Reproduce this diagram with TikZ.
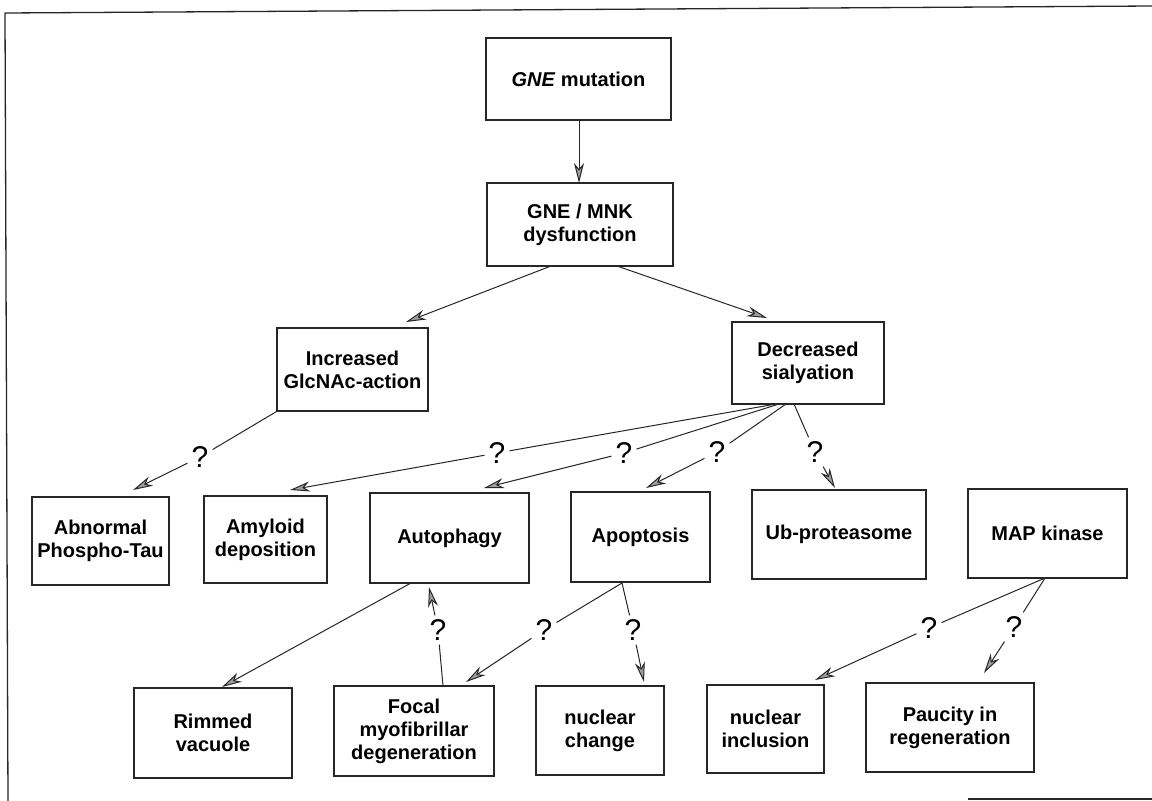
\documentclass[tikz,border=0pt]{standalone}
\usepackage{fontspec}
\setmainfont{Liberation Sans}
\usetikzlibrary{arrows.meta}
\begin{document}
\begin{tikzpicture}[x=1pt,y=-1pt,
  box/.style 2 args={draw=black!85, line width=1.2pt, minimum width=#1, minimum height=#2,
    inner sep=0pt, align=center, font=\fontsize{20}{23}\selectfont\bfseries},
  qm/.style={inner sep=4pt, font=\fontsize{30}{30}\selectfont},
  con/.style={line width=1pt, draw=black!85},
  arr/.style={con, -{Stealth[length=20pt,width=10pt,inset=6pt,fill=gray!75]}}]
\useasboundingbox (0,0) rectangle (1152,801);
% frame
\draw[line width=1.3pt, black!85] (1152,6) -- (5,13) -- (8,801);
\draw[line width=1.3pt, black!85] (968,799) -- (1152,799);
% boxes
\node[box={185}{82}] (gne) at (578.5,79) {\textit{GNE} mutation};
\node[box={186}{83}] (mnk) at (580,224.5) {GNE / MNK\\dysfunction};
\node[box={151}{83}] (inc) at (352.5,369.5) {Increased\\GlcNAc-action};
\node[box={152}{82}] (dec) at (808,363) {Decreased\\sialyation};
\node[box={137}{88}] (abn) at (100.5,541) {Abnormal\\Phospho-Tau};
\node[box={123}{87}] (amy) at (265.5,539.5) {Amyloid\\deposition};
\node[box={159}{90}] (aut) at (449.5,538) {Autophagy};
\node[box={139}{90}] (apo) at (640.5,537) {Apoptosis};
\node[box={174}{89}] (ub) at (839,534.5) {Ub-proteasome};
\node[box={159}{89}] (map) at (1047.5,533.5) {MAP kinase};
\node[box={158}{90}] (rim) at (213,733) {Rimmed\\vacuole};
\node[box={160}{90}] (foc) at (414,731) {Focal\\myofibrillar\\degeneration};
\node[box={128}{89}] (nch) at (600,730.5) {nuclear\\change};
\node[box={117}{88}] (ninc) at (765.5,729) {nuclear\\inclusion};
\node[box={168}{89}] (pau) at (950,727.5) {Paucity in\\regeneration};
% question marks
\node[qm] (q1) at (200,457) {?};
\node[qm] (q2) at (497,453) {?};
\node[qm] (q3) at (624,453) {?};
\node[qm] (q4) at (717,452) {?};
\node[qm] (q5) at (815,452) {?};
\node[qm] (q6) at (544,630) {?};
\node[qm] (q7) at (633,630) {?};
\node[qm] (q8) at (438,630) {?};
\node[qm] (q9) at (929,628) {?};
\node[qm] (q10) at (1014,627) {?};
% connector end points
\coordinate (gneS) at (579,120);
\coordinate (mnkT) at (579,183);
\coordinate (mnkL) at (551,266);
\coordinate (mnkR) at (617,266);
\coordinate (incT) at (406,322);
\coordinate (decT) at (767,318);
\coordinate (t1) at (133,490);
\coordinate (s2) at (776,404);
\coordinate (s3) at (779,404);
\coordinate (s4) at (786,404);
\coordinate (s5) at (794,404);
\coordinate (t2) at (290,490);
\coordinate (t3) at (484,488);
\coordinate (t4) at (646,488);
\coordinate (t5) at (835,488);
\coordinate (autS) at (411,583);
\coordinate (rimT) at (222,687);
\coordinate (apoS) at (622,583);
\coordinate (t6) at (466,682);
\coordinate (t7) at (644,682);
\coordinate (focS) at (443,686);
\coordinate (t8) at (429,587);
\coordinate (mapS) at (1045,578);
\coordinate (t9) at (815,680);
\coordinate (t10) at (984,673);
% connectors
\draw[arr] (gneS) -- (mnkT);
\draw[arr] (mnkL) -- (incT);
\draw[arr] (mnkR) -- (decT);
\draw[con] (inc.south west) -- (q1); \draw[arr] (q1) -- (t1);
\draw[con] (s2) -- (q2); \draw[arr] (q2) -- (t2);
\draw[con] (s3) -- (q3); \draw[arr] (q3) -- (t3);
\draw[con] (s4) -- (q4); \draw[arr] (q4) -- (t4);
\draw[con] (s5) -- (q5); \draw[arr] (q5) -- (t5);
\draw[arr] (autS) -- (rimT);
\draw[con] (apoS) -- (q6); \draw[arr] (q6) -- (t6);
\draw[con] (apoS) -- (q7); \draw[arr] (q7) -- (t7);
\draw[con] (focS) -- (q8); \draw[arr] (q8) -- (t8);
\draw[con] (mapS) -- (q9); \draw[arr] (q9) -- (t9);
\draw[con] (mapS) -- (q10); \draw[arr] (q10) -- (t10);
\end{tikzpicture}
\end{document}
